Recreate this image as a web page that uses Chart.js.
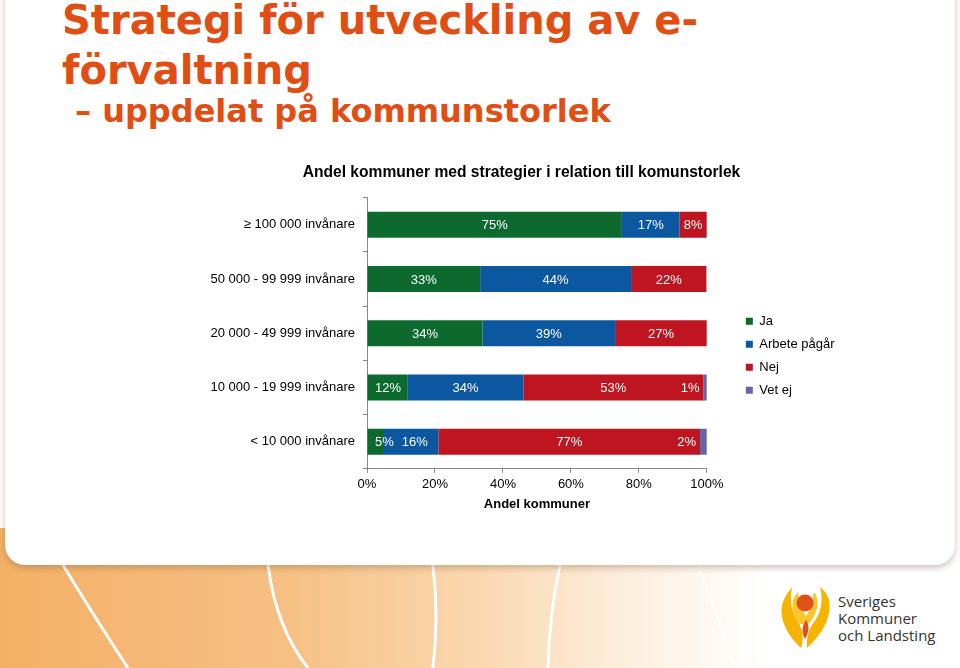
<!DOCTYPE html>
<html>
<head>
<meta charset="utf-8">
<script src="https://cdn.jsdelivr.net/npm/chart.js@4.4.1/dist/chart.umd.min.js"></script>
<style>
  html, body { margin: 0; padding: 0; }
  body { width: 960px; height: 668px; position: relative; overflow: hidden; background: #fff; }
  #band { position: absolute; left: 0; top: 528px; width: 960px; height: 140px;
          background: linear-gradient(to right, #f4b066 0%, #f6c084 30%, #fad8b0 50%, #fdeedd 65%, #ffffff 80%); }
  #band svg { position: absolute; left: 0; top: 0; }
  #panel { position: absolute; left: 5px; top: -30px; width: 950px; height: 595px; background: #fff;
           border-radius: 0 0 20px 20px; box-shadow: 0 3px 6px rgba(120,90,60,0.35); }
  .h { position: absolute; color: #e04e14; font-family: "DejaVu Sans", sans-serif;
       font-weight: bold; white-space: nowrap; }
  #chartBox { position: absolute; left: 188px; top: 150px; width: 655px; height: 366px; }
  #logoText { position: absolute; left: 838px; top: 593px; font-family: "Open Sans", sans-serif;
              font-size: 15px; line-height: 17px; color: #333; }
</style>
</head>
<body>
<div id="band">
  <svg width="960" height="140">
    <g fill="none" stroke="#fff" stroke-width="3">
      <path d="M63 37 Q92 85 128 140"/>
      <path d="M268 37 Q276 100 308 140"/>
      <path d="M433 37 Q439 88 433 140"/>
      <path d="M560 37 Q549 88 548 140"/>
      <path d="M698 37 Q718 88 735 140" stroke-opacity="0.7"/>
    </g>
    <g>
      <path d="M801 120 C786 106 778 88 783 74 C786 66 790 62 792 59 C790 70 790 82 798 94 C803 102 804 112 801 120 Z" fill="#f6b400"/>
      <path d="M807 120 C822 106 832 90 829 72 C827 66 824 62 820 59 C823 70 822 84 814 94 C808 102 806 112 807 120 Z" fill="#f6b400"/>
      <path d="M796 92 C790 80 792 70 798 64 C800 74 802 82 806 88 C810 82 812 74 814 64 C820 72 818 82 812 92 C808 98 800 98 796 92 Z" fill="#f9c630"/>
      <circle cx="805" cy="75" r="8.5" fill="#e2501a"/>
      <path d="M806 92 C802 98 801 104 805 111 C809 104 810 98 806 92 Z" fill="#e2501a"/>
    </g>
  </svg>
</div>
<div id="panel"></div>

<div class="h" style="left:62px; top:-3px; font-size:40px;">Strategi för utveckling av e-</div>
<div class="h" style="left:62px; top:47px; font-size:40px;">förvaltning</div>
<div class="h" style="left:75px; top:92px; font-size:32px;">– uppdelat på kommunstorlek</div>

<div id="chartBox"><canvas id="strategiChart"></canvas></div>

<div id="logoText">Sveriges<br>Kommuner<br>och Landsting</div>

<script>
var categories = ['\u2265 100 000 invånare', '50 000 - 99 999 invånare', '20 000 - 49 999 invånare',
                  '10 000 - 19 999 invånare', '< 10 000 invånare'];
var seriesNames = ['Ja', 'Arbete pågår', 'Nej', 'Vet ej'];
var ja = [75, 33.3, 34, 12, 5];
var arbetePagar = [17, 44.4, 39, 34, 16];
var nej = [8, 22.2, 27, 53, 77];
var vetEj = [0, 0, 0, 1, 2];
var xTicks = [0, 20, 40, 60, 80, 100];

var colors = ['#0c6a2f', '#0b58a0', '#bf1520', '#6565a8'];
var font = '"Liberation Sans", Arial, Helvetica, sans-serif';

// white percent labels inside each segment
var segmentLabels = {
    id: 'segmentLabels',
    afterDatasetsDraw: function(chart) {
        var ctx = chart.ctx;
        var area = chart.chartArea;
        ctx.save();
        ctx.font = '13px ' + font;
        ctx.fillStyle = '#fff';
        ctx.textAlign = 'center';
        ctx.textBaseline = 'middle';
        chart.data.labels.forEach(function(lab, i) {
            var prevRight = area.left;
            chart.data.datasets.forEach(function(ds, d) {
                var v = ds.data[i];
                if (!v) return;
                var bar = chart.getDatasetMeta(d).data[i];
                var txt = Math.round(v) + '%';
                var w = ctx.measureText(txt).width;
                var x = (bar.base + bar.x) / 2;
                if (w + 4 > bar.x - bar.base && bar.x >= area.right - 1) {
                    x = bar.base - w / 2 - 4;
                }
                x = Math.max(x, prevRight + w / 2 + 8);
                ctx.fillText(txt, x, bar.y + 1);
                prevRight = x + w / 2;
            });
        });
        ctx.restore();
    }
};

document.addEventListener('DOMContentLoaded', function() {
    var ctx = document.getElementById('strategiChart').getContext('2d');
    var series = [ja, arbetePagar, nej, vetEj];
    var chart = new Chart(ctx, {
        type: 'bar',
        data: {
            labels: categories,
            datasets: seriesNames.map(function(name, k) {
                return {
                    label: name,
                    data: series[k],
                    backgroundColor: colors[k],
                    borderWidth: 0,
                    barPercentage: 0.48,
                    categoryPercentage: 1
                };
            })
        },
        options: {
            indexAxis: 'y',
            responsive: true,
            maintainAspectRatio: false,
            animation: false,
            layout: { padding: { left: 12, right: 0, top: 0, bottom: 4 } },
            scales: {
                x: {
                    stacked: true,
                    min: 0,
                    max: 100,
                    afterBuildTicks: function(axis) {
                        axis.ticks = xTicks.map(function(v) { return { value: v }; });
                    },
                    ticks: {
                        color: '#000',
                        font: { family: font, size: 13 },
                        padding: 4,
                        callback: function(v) { return v + '%'; }
                    },
                    grid: { drawOnChartArea: false, drawTicks: true, tickLength: 4, color: '#888' },
                    border: { color: '#888' },
                    title: {
                        display: true,
                        text: 'Andel kommuner',
                        color: '#000',
                        font: { family: font, size: 13, weight: 'bold' },
                        padding: { top: 0, bottom: 0 }
                    }
                },
                y: {
                    stacked: true,
                    ticks: {
                        color: '#000',
                        font: { family: font, size: 13 },
                        padding: 8
                    },
                    grid: { offset: true, drawOnChartArea: false, drawTicks: true, tickLength: 4, color: '#888' },
                    border: { color: '#888' },
                    afterFit: function(scale) { scale.width = 167; }
                },
                // empty spacer between the bars and the legend
                gap: {
                    type: 'category',
                    axis: 'y',
                    position: 'right',
                    ticks: { display: false },
                    grid: { display: false },
                    border: { display: false },
                    afterFit: function(scale) { scale.width = 29; }
                }
            },
            plugins: {
                title: {
                    display: true,
                    text: 'Andel kommuner med strategier i relation till komunstorlek',
                    color: '#000',
                    font: { family: font, size: 15.6, weight: 'bold' },
                    padding: { top: 13, bottom: 16 }
                },
                legend: {
                    position: 'right',
                    align: 'center',
                    title: {
                        display: true,
                        text: ' ',
                        font: { family: font, size: 13 },
                        padding: { top: 17, bottom: 17 }
                    },
                    labels: {
                        color: '#000',
                        font: { family: font, size: 13 },
                        boxWidth: 7,
                        boxHeight: 7,
                        padding: 10
                    }
                },
                tooltip: { enabled: false }
            }
        },
        plugins: [segmentLabels]
    });
});
</script>
</body>
</html>
